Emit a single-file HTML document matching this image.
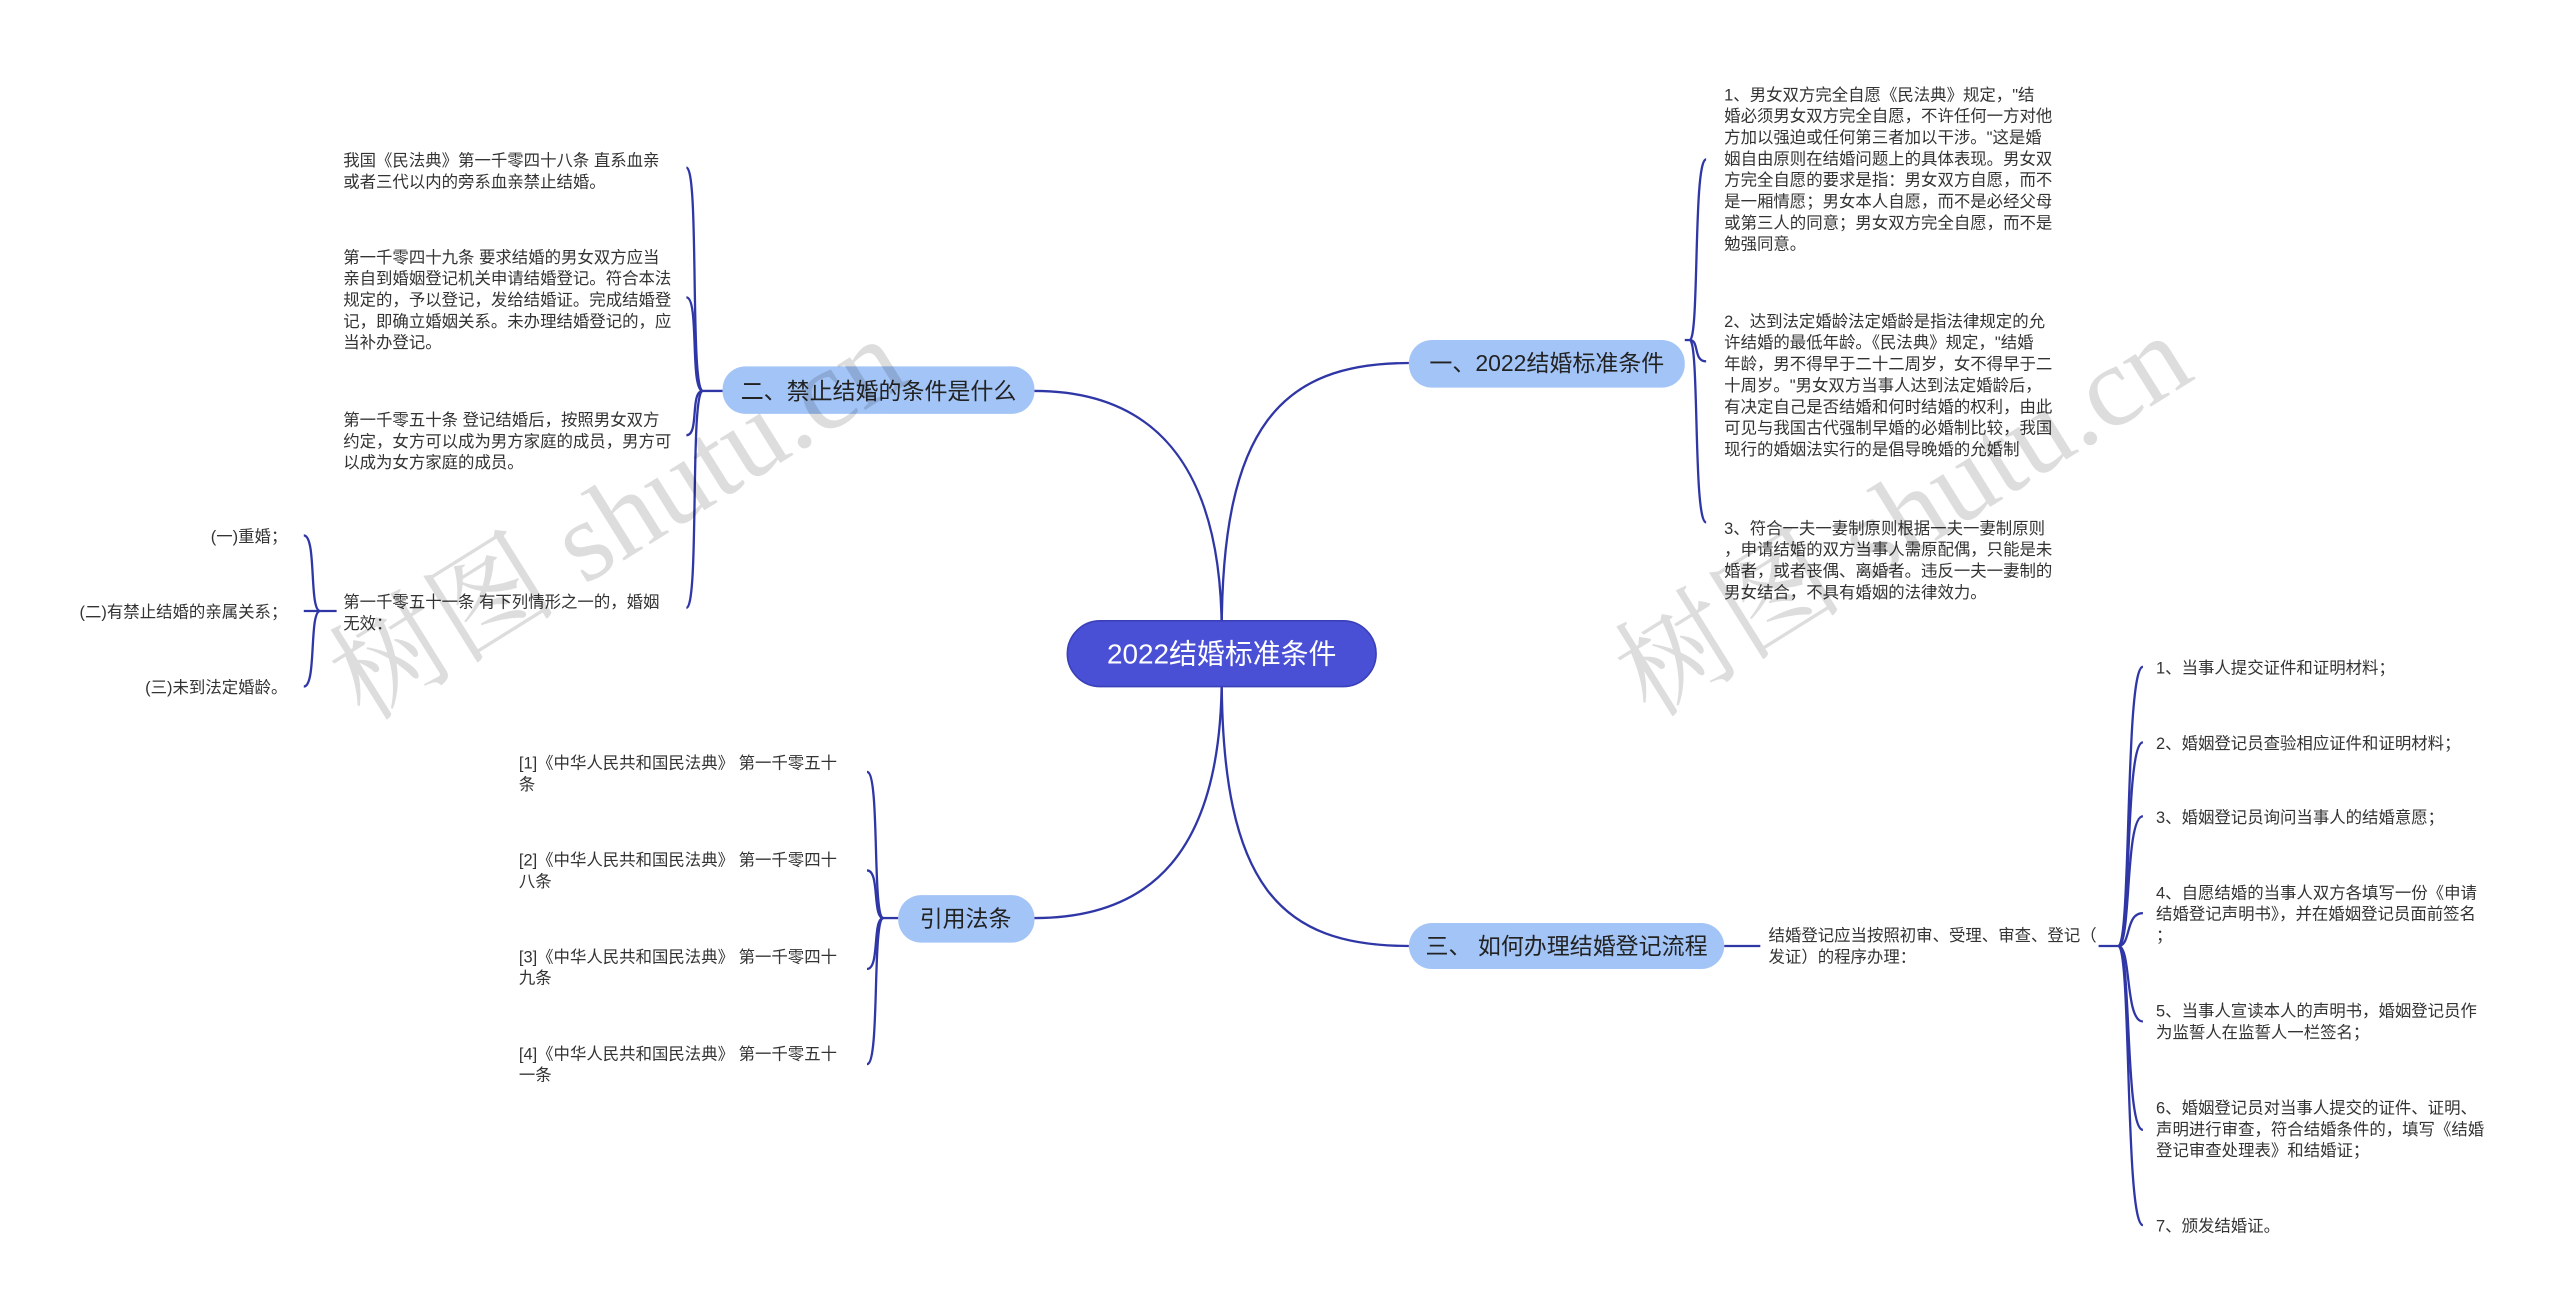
<!DOCTYPE html>
<html><head><meta charset="utf-8"><style>
html,body{margin:0;padding:0;background:#fff;}
svg{display:block;}
text{font-family:"Liberation Sans","Noto Sans CJK SC",sans-serif;}
.t{font-size:10px;fill:#333;}
.n{font-size:14px;fill:#222;}
.l{fill:none;stroke:#2f36a6;stroke-width:1.4;}
.wm{font-size:70px;fill:#000;opacity:0.13;font-family:"Liberation Serif","Noto Serif CJK SC",serif;}
</style></head><body>
<svg width="2560" height="1309" viewBox="0 0 1559 797" xmlns="http://www.w3.org/2000/svg">
<rect width="1559" height="797" fill="#fff"/>

<path class="l" d="M744,385 C744,260 780,221 858,221"/>
<path class="l" d="M744,412 C744,540 780,576 858,576"/>
<path class="l" d="M744,385 C744,280 700,238 630,238"/>
<path class="l" d="M744,412 C744,520 700,559 630,559"/>

<path class="l" d="M1026,207 L1029,207"/>
<path class="l" d="M1029,207 C1035,207 1031,97 1039,97"/>
<path class="l" d="M1029,207 C1035,207 1031,220 1039,220"/>
<path class="l" d="M1029,207 C1035,207 1031,318 1039,318"/>

<path class="l" d="M1050,576 L1072,576"/>
<path class="l" d="M1278,576 L1290,576"/>
<path class="l" d="M1290,576 C1298,576 1294,406 1305,406"/>
<path class="l" d="M1290,576 C1298,576 1294,452 1305,452"/>
<path class="l" d="M1290,576 C1298,576 1294,497 1305,497"/>
<path class="l" d="M1290,576 C1298,576 1294,556 1305,556"/>
<path class="l" d="M1290,576 C1298,576 1294,622 1305,622"/>
<path class="l" d="M1290,576 C1298,576 1294,688 1305,688"/>
<path class="l" d="M1290,576 C1298,576 1294,746 1305,746"/>

<path class="l" d="M440,238 L428,238"/>
<path class="l" d="M428,238 C420,238 426,102 418,102"/>
<path class="l" d="M428,238 C420,238 426,181 418,181"/>
<path class="l" d="M428,238 C420,238 426,265 418,265"/>
<path class="l" d="M428,238 C420,238 426,370 418,370"/>

<path class="l" d="M205,372 L195,372"/>
<path class="l" d="M195,372 C188,372 193,326 185,326"/>
<path class="l" d="M195,372 L185,372"/>
<path class="l" d="M195,372 C188,372 193,418 185,418"/>

<path class="l" d="M547,559 L538,559"/>
<path class="l" d="M538,559 C531,559 536,470 528,470"/>
<path class="l" d="M538,559 C531,559 536,530 528,530"/>
<path class="l" d="M538,559 C531,559 536,590 528,590"/>
<path class="l" d="M538,559 C531,559 536,648 528,648"/>

<rect x="650" y="378" width="188" height="40" rx="20" fill="#4a50d6" stroke="#3a40b8"/>
<text x="744" y="404" font-size="17" fill="#fff" text-anchor="middle">2022结婚标准条件</text>

<rect x="858" y="207" width="168" height="29" rx="14" fill="#a3c4f6"/>
<text x="942" y="226" class="n" text-anchor="middle">一、2022结婚标准条件</text>

<rect x="858" y="562" width="192" height="28" rx="14" fill="#a3c4f6"/>
<text x="954" y="581" class="n" text-anchor="middle">三、 如何办理结婚登记流程</text>

<rect x="440" y="223" width="190" height="29" rx="14" fill="#a3c4f6"/>
<text x="535" y="243" class="n" text-anchor="middle">二、禁止结婚的条件是什么</text>

<rect x="547" y="545" width="83" height="29" rx="14" fill="#a3c4f6"/>
<text x="588" y="564" class="n" text-anchor="middle">引用法条</text>

<g class="t">
<text x="1050" y="61">1、男女双方完全自愿《民法典》规定，"结</text>
<text x="1050" y="74">婚必须男女双方完全自愿，不许任何一方对他</text>
<text x="1050" y="87">方加以强迫或任何第三者加以干涉。"这是婚</text>
<text x="1050" y="100">姻自由原则在结婚问题上的具体表现。男女双</text>
<text x="1050" y="113">方完全自愿的要求是指：男女双方自愿，而不</text>
<text x="1050" y="126">是一厢情愿；男女本人自愿，而不是必经父母</text>
<text x="1050" y="139">或第三人的同意；男女双方完全自愿，而不是</text>
<text x="1050" y="152">勉强同意。</text>

<text x="1050" y="199">2、达到法定婚龄法定婚龄是指法律规定的允</text>
<text x="1050" y="212">许结婚的最低年龄。《民法典》规定，"结婚</text>
<text x="1050" y="225">年龄，男不得早于二十二周岁，女不得早于二</text>
<text x="1050" y="238">十周岁。"男女双方当事人达到法定婚龄后，</text>
<text x="1050" y="251">有决定自己是否结婚和何时结婚的权利，由此</text>
<text x="1050" y="264">可见与我国古代强制早婚的必婚制比较，我国</text>
<text x="1050" y="277">现行的婚姻法实行的是倡导晚婚的允婚制</text>

<text x="1050" y="325">3、符合一夫一妻制原则根据一夫一妻制原则</text>
<text x="1050" y="338">，申请结婚的双方当事人需原配偶，只能是未</text>
<text x="1050" y="351">婚者，或者丧偶、离婚者。违反一夫一妻制的</text>
<text x="1050" y="364">男女结合，不具有婚姻的法律效力。</text>

<text x="1077" y="573">结婚登记应当按照初审、受理、审查、登记（</text>
<text x="1077" y="586">发证）的程序办理：</text>

<text x="1313" y="410">1、当事人提交证件和证明材料；</text>
<text x="1313" y="456">2、婚姻登记员查验相应证件和证明材料；</text>
<text x="1313" y="501">3、婚姻登记员询问当事人的结婚意愿；</text>
<text x="1313" y="547">4、自愿结婚的当事人双方各填写一份《申请</text>
<text x="1313" y="560">结婚登记声明书》，并在婚姻登记员面前签名</text>
<text x="1313" y="573">；</text>
<text x="1313" y="619">5、当事人宣读本人的声明书，婚姻登记员作</text>
<text x="1313" y="632">为监誓人在监誓人一栏签名；</text>
<text x="1313" y="678">6、婚姻登记员对当事人提交的证件、证明、</text>
<text x="1313" y="691">声明进行审查，符合结婚条件的，填写《结婚</text>
<text x="1313" y="704">登记审查处理表》和结婚证；</text>
<text x="1313" y="750">7、颁发结婚证。</text>

<text x="209" y="101">我国《民法典》第一千零四十八条 直系血亲</text>
<text x="209" y="114">或者三代以内的旁系血亲禁止结婚。</text>
<text x="209" y="160">第一千零四十九条 要求结婚的男女双方应当</text>
<text x="209" y="173">亲自到婚姻登记机关申请结婚登记。符合本法</text>
<text x="209" y="186">规定的，予以登记，发给结婚证。完成结婚登</text>
<text x="209" y="199">记，即确立婚姻关系。未办理结婚登记的，应</text>
<text x="209" y="212">当补办登记。</text>
<text x="209" y="259">第一千零五十条 登记结婚后，按照男女双方</text>
<text x="209" y="272">约定，女方可以成为男方家庭的成员，男方可</text>
<text x="209" y="285">以成为女方家庭的成员。</text>
<text x="209" y="370">第一千零五十一条 有下列情形之一的，婚姻</text>
<text x="209" y="383">无效：</text>

<text x="175" y="330" text-anchor="end">(一)重婚；</text>
<text x="175" y="376" text-anchor="end">(二)有禁止结婚的亲属关系；</text>
<text x="175" y="422" text-anchor="end">(三)未到法定婚龄。</text>

<text x="316" y="468">[1]《中华人民共和国民法典》 第一千零五十</text>
<text x="316" y="481">条</text>
<text x="316" y="527">[2]《中华人民共和国民法典》 第一千零四十</text>
<text x="316" y="540">八条</text>
<text x="316" y="586">[3]《中华人民共和国民法典》 第一千零四十</text>
<text x="316" y="599">九条</text>
<text x="316" y="645">[4]《中华人民共和国民法典》 第一千零五十</text>
<text x="316" y="658">一条</text>
</g>

<text class="wm" transform="translate(222,440) rotate(-32)">树图 shutu.cn</text>
<text class="wm" transform="translate(1005,438) rotate(-32)">树图 shutu.cn</text>
</svg>
</body></html>
